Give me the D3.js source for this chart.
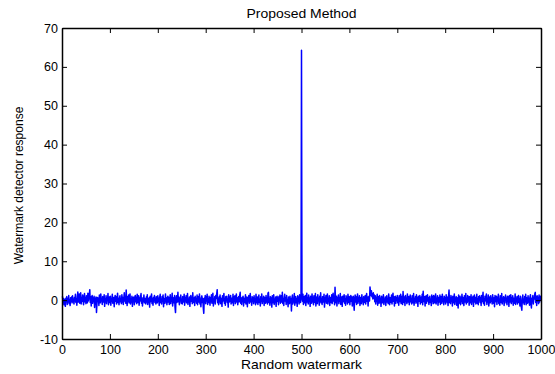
<!DOCTYPE html>
<html>
<head>
<meta charset="utf-8">
<script src="https://cdn.jsdelivr.net/npm/d3@7"></script>
<style>
  body { margin: 0; background: #fff; }
  svg { display: block; font-family: "Liberation Sans", Arial, sans-serif; }
</style>
</head>
<body>
<div id="chart"></div>
<script>
// chart texts
const title = "Proposed Method";
const xLabel = "Random watermark";
const yLabel = "Watermark detector response";

// tick values
const xTicks = [0, 100, 200, 300, 400, 500, 600, 700, 800, 900, 1000];
const yTicks = [-10, 0, 10, 20, 30, 40, 50, 60, 70];

// detector response for watermarks 1..1000 (peak at 500)
const response = [
  1.0, -0.3, 0.4, -1.2, 0.2, -0.8, -1.6, 0.5, -0.2, 0.9, -1.1, 0.3, -0.5, 1.2, -0.9, 0.1, -1.4, 0.6, -0.3, 0.8, -0.7, 1.1, -0.4, 0.2, -1.0,
  0.7, -0.2, 1.5, -0.6, 0.3, -1.3, 0.9, 2.1, -0.5, 0.4, 1.6, -0.8, 0.2, 1.9, -1.0, 0.6, -0.3, 1.3, 0.1, -1.2, 0.8, 1.7, -0.4, 0.5, -0.9,
  1.1, 0.2, -0.7, 1.8, -0.2, 0.6, 1.4, 2.7, -0.6, 0.9, -1.5, 0.3, 1.2, -0.8, 0.5, -0.1, 1.0, -1.9, 0.4, -0.6, 0.8, -3.2, -0.9, 0.7, -0.3,
  0.5, -1.4, 1.3, 0.1, -0.7, 1.6, -0.2, 0.4, -1.1, 0.9, 0.2, -0.5, 1.4, -1.6, 0.3, -0.4, 1.1, -0.9, 0.6, -0.1, 1.7, -1.2, 0.2, 0.8, -0.6,
  1.0, -1.3, 0.4, -0.2, 1.5, -0.8, 0.1, 0.7, -1.7, 0.5, 1.2, -0.3, 0.9, -1.0, 0.2, 1.8, -0.6, 0.3, -1.2, 0.6, 1.1, -0.4, 0.0, -0.9, 1.4,
  -0.5, 0.7, -1.1, 0.3, 1.9, -0.2, 0.5, -0.8, 2.6, 0.1, -1.4, 0.9, -0.3, 1.3, -0.7, 0.4, 1.6, -1.0, 0.2, -0.5, 1.0, -1.6, 0.6, -0.1, 0.8,
  -1.2, 0.3, 1.2, -0.4, 0.7, -0.9, 1.5, 0.0, -0.6, 1.1, -1.3, 0.5, -0.2, 0.9, 1.7, -0.8, 0.2, -1.5, 0.6, -0.3, 1.3, -0.7, 0.4, 0.1, -1.0,
  0.8, -0.5, 1.4, -1.1, 0.3, -0.2, 0.6, -1.8, 1.0, -0.4, 0.5, 1.6, -0.9, 0.2, -1.3, 0.7, -0.1, 1.2, -0.6, 0.4, -1.0, 0.9, 0.1, -0.7, 1.1,
  -0.3, 0.5, -1.4, 0.8, 1.5, -0.6, 0.2, -1.0, 0.9, -0.2, 1.3, -1.7, 0.4, 0.1, -0.8, 1.6, -0.4, 0.6, -1.2, 0.3, 1.0, -0.5, 0.7, -1.1, 0.2,
  1.4, -0.9, 0.5, -0.3, 1.8, -1.5, 0.6, 0.0, -0.7, 1.2, -1.9, -3.2, 0.4, 1.1, -0.6, 0.3, 2.0, -0.4, 0.8, -1.2, 0.5, -0.1, 1.3, -0.8, 0.2,
  -1.0, 0.9, 0.3, -0.5, 1.5, -1.3, 0.6, -0.2, 1.1, -0.7, 0.4, 1.7, -1.1, 0.1, -0.4, 0.8, -1.6, 0.5, 1.2, -0.3, 0.7, -0.9, 1.9, -0.6, 0.2,
  0.6, -1.4, 1.0, -0.1, 0.4, -0.8, 1.3, -1.2, 0.3, 0.9, -0.5, 1.6, -1.0, 0.2, -1.7, 0.7, 1.1, -0.6, 0.4, -2.1, -3.4, 0.5, -0.3, 1.2, -0.9,
  0.8, -0.2, 1.5, -1.1, 0.3, -0.6, 1.0, 0.1, -1.3, 0.7, -0.4, 1.4, -0.8, 0.5, 1.8, -1.5, 0.2, -0.3, 0.9, -1.0, 1.2, 0.4, 1.6, 2.7, -0.7,
  0.3, -1.2, 0.8, -0.4, 1.3, -0.9, 0.5, 0.0, -1.6, 1.1, -0.2, 0.6, 1.7, -0.8, 0.4, -1.3, 0.9, -0.1, 1.0, -0.6, 0.3, -1.8, 1.4, -0.5, 0.7,
  -0.3, 1.2, -1.0, 0.5, 0.2, -0.7, 1.5, -1.4, 0.8, -0.2, 1.1, -0.9, 0.3, 1.6, -0.5, 0.6, -1.2, 0.1, 0.9, -0.4, 1.3, 2.0, -0.8, 0.4, -1.1,
  0.7, -0.3, 1.0, -1.5, 0.5, 0.2, -0.6, 1.4, -1.0, 0.3, 0.8, -1.7, 0.6, -0.1, 1.2, -0.8, 0.4, 1.7, -0.5, 0.1, -1.3, 0.9, -0.2, 0.6, -0.9,
  1.1, -0.4, 0.3, -1.2, 1.5, 0.0, -0.7, 0.8, -1.1, 0.5, 1.3, -0.6, 0.2, -1.5, 0.9, -0.3, 1.6, -0.9, 0.4, -0.1, 1.0, -1.4, 0.7, 0.2, -0.8,
  1.2, -0.5, 0.6, -1.0, 1.8, 2.0, -0.6, 0.3, -1.3, 0.9, -0.2, 0.5, -1.8, 1.1, -0.7, 0.4, 1.4, -1.1, 0.2, -0.4, 0.8, -1.6, 0.6, 1.0, -0.3,
  0.5, -1.2, 0.9, -0.1, 1.3, -0.8, 0.4, 1.1, -0.5, 2.0, -0.9, 0.3, -1.4, 0.7, 1.5, -0.2, 0.6, -1.1, 1.2, -0.6, 0.1, -1.7, 0.8, 0.4, -0.9,
  1.0, -0.4, 0.3, -2.8, 0.6, 1.3, -1.0, 0.2, -0.5, 1.7, -1.3, 0.5, 0.9, -0.7, 0.3, -1.6, 1.1, -0.2, 0.7, -1.0, 1.4, 0.0, -0.6, 1.2, 64.3,
  0.8, -0.3, 1.5, -1.1, 0.4, 0.9, -0.7, 1.2, -1.4, 0.2, 1.8, -0.5, 0.6, -1.0, 1.3, -0.2, 0.5, -1.6, 1.0, 0.3, -0.8, 1.6, -0.4, 0.7, -1.2,
  1.1, -0.6, 0.4, 1.7, -1.5, 0.2, 0.8, -0.9, 1.4, -0.1, 0.5, -1.3, 1.0, -0.4, 1.9, -0.7, 0.3, -1.1, 0.9, 0.1, -0.5, 1.5, -1.8, 0.6, -0.2,
  1.2, -0.8, 0.4, 1.6, -1.0, 0.3, -0.3, 1.1, -1.4, 0.7, 0.2, -0.6, 1.4, -0.9, 0.5, 1.8, -0.2, 0.9, -1.2, 3.3, 0.4, -0.7, 1.0, -1.5, 0.6,
  0.1, 1.3, -0.9, 0.5, -0.3, 1.7, -1.1, 0.2, 0.8, -1.6, 1.0, -0.4, 0.6, 1.4, -0.8, 0.3, -1.3, 1.1, -0.1, 0.7, -1.0, 1.5, 0.2, -0.6, 0.9,
  -1.2, 0.5, 1.2, -0.3, 0.8, -1.5, 0.1, 1.0, -0.7, -2.6, 0.4, 1.3, -0.5, 0.9, -1.1, 0.2, 1.6, -0.8, 0.6, -0.2, 1.1, -1.4, 0.3, 0.7, -0.9,
  1.4, -0.4, 0.5, -1.2, 0.9, 0.1, -0.6, 1.2, -1.0, 0.4, 1.7, -0.3, 0.8, -1.5, 0.6, 1.0, -0.2, 3.4, 2.1, 1.2, 2.4, 0.9, 1.6, 0.3, 1.9,
  0.5, 1.3, -0.4, 1.1, -1.0, 0.7, -0.2, 1.5, -1.3, 0.3, 0.9, -0.8, 1.2, -0.5, 0.4, -1.6, 1.0, 0.1, -0.7, 0.6, 1.4, -1.1, 0.2, -0.3, 0.8,
  -1.4, 0.6, 1.1, -0.5, 0.3, -0.9, 1.6, 0.0, -1.2, 0.7, 0.4, -0.6, 1.3, -1.0, 0.5, 1.8, -0.3, 0.9, -1.5, 0.2, 1.0, -0.8, 0.6, -0.1, 1.2,
  -0.7, 0.4, -1.3, 1.1, 0.2, -0.4, 1.5, -0.9, 0.6, 1.0, -1.1, 2.2, 0.3, -0.6, 0.8, -1.4, 1.2, -0.2, 0.5, -0.9, 1.6, 0.1, -0.5, 0.9, -1.2,
  0.7, 1.3, -0.4, 0.2, -1.0, 1.1, -0.7, 0.5, 1.7, -1.3, 0.3, -0.1, 0.9, -0.8, 1.4, -0.5, 0.6, -1.6, 1.0, 0.2, -0.3, 1.2, -1.0, 0.4, 0.8,
  -0.6, 1.5, -1.2, 2.3, 0.1, -0.4, 0.9, -1.5, 0.6, 1.1, -0.8, 0.3, 1.4, -0.2, 0.7, -1.1, 0.5, 1.0, -0.6, 0.2, -1.4, 1.3, -0.3, 0.8, -0.9,
  1.2, 0.0, -0.7, 0.6, 1.6, -1.0, 0.4, -0.3, 1.1, -1.3, 0.7, 0.2, -0.5, 1.3, -1.1, 0.5, 0.9, -0.8, 1.5, -0.2, 0.3, -1.2, 1.0, -0.4, 0.6,
  -1.0, 1.4, -0.5, 0.8, 0.1, -1.4, 1.1, 2.6, -0.6, 0.4, -0.9, 1.2, -0.2, 0.7, -1.5, 1.0, 0.3, -0.7, 1.6, -1.1, 0.5, -0.1, 0.9, -1.3, 0.6,
  -0.4, -2.0, 1.3, -0.8, 0.2, 1.0, -1.2, 0.5, -0.3, 1.5, -0.9, 0.7, 0.1, -1.4, 1.1, -0.5, 0.4, 1.7, -1.0, 0.3, -0.6, 1.2, -0.2, 0.8, -1.3,
  0.9, 0.2, -0.7, 1.4, -1.1, 0.6, -0.3, 1.0, -1.6, 0.4, 1.3, -0.5, 0.7, -1.0, 0.1, 1.5, -0.8, 0.3, -1.2, 0.9, -0.1, 1.1, -0.6, 0.5, -1.4,
  1.2, -0.4, 0.6, 2.0, -0.9, 0.3, -1.3, 1.0, -0.2, 0.7, 1.6, -1.1, 0.4, -0.5, 1.3, -1.5, 0.2, 0.8, -0.7, 1.1, -0.3, 0.5, -1.0, 1.4, 0.0,
  -0.8, 0.6, -1.7, 1.2, -0.4, 0.3, 1.0, -1.1, 0.7, -0.2, 1.5, -0.9, 0.2, -1.3, 1.1, 0.4, -0.6, 1.7, -1.0, 0.5, -0.3, 0.9, -1.4, 0.6, 0.1,
  1.3, -0.7, 0.4, -1.2, 1.0, -0.1, 0.8, -1.6, 1.2, -0.5, 0.3, 1.4, -0.9, 0.6, -0.2, 1.1, -1.3, 0.5, 0.2, -0.8, 1.6, -1.1, 0.4, -0.4, 0.9,
  -1.0, 0.7, 1.2, -0.6, 0.3, -1.5, 1.0, -0.3, -1.8, -2.6, 0.5, 1.3, -0.7, 0.2, -1.1, 0.9, -0.4, 1.5, -1.2, 0.6, 0.1, -0.8, 1.1, -0.5, 0.4,
  -1.3, 0.8, 1.4, -0.9, -2.0, 0.5, -0.2, 1.2, -1.0, 0.6, 0.3, 1.6, 2.0, -0.6, 0.9, -1.4, 1.1, -0.3, 0.7, -0.9, 1.3, -0.5, 0.4, 1.0, -0.2
];

const width = 555, height = 374;
const margin = { top: 28, right: 14, bottom: 35, left: 62 };
const plotW = width - margin.left - margin.right;
const plotH = height - margin.top - margin.bottom;
const tickLen = 5;

const svg = d3.select("#chart").append("svg")
    .attr("width", width)
    .attr("height", height);

const g = svg.append("g")
    .attr("transform", `translate(${margin.left},${margin.top})`);

const x = d3.scaleLinear().domain([0, 1000]).range([0, plotW]);
const y = d3.scaleLinear().domain([-10, 70]).range([plotH, 0]);

// the series
const line = d3.line()
    .x((d, i) => x(i + 1))
    .y(d => y(d));

g.append("path")
    .datum(response)
    .attr("fill", "none")
    .attr("stroke", "#0000ff")
    .attr("stroke-width", 1.5)
    .attr("stroke-linejoin", "round")
    .attr("d", line);

// axes, matlab style: ticks point inward, on all four sides
const styleAxis = sel => {
    sel.select(".domain").attr("stroke", "#000").attr("stroke-width", 1.5);
    sel.selectAll(".tick line").attr("stroke", "#000");
    sel.selectAll(".tick text").attr("fill", "#000").style("font-size", "12.5px");
};

const plain = d => String(d); // hyphen minus, no thousands comma

g.append("g")
    .attr("transform", `translate(0,${plotH})`)
    .call(d3.axisBottom(x).tickValues(xTicks).tickFormat(plain).tickSize(-tickLen).tickPadding(6).tickSizeOuter(0))
    .call(styleAxis);

g.append("g")
    .call(d3.axisTop(x).tickValues(xTicks).tickSize(-tickLen).tickFormat("").tickSizeOuter(0))
    .call(styleAxis);

g.append("g")
    .call(d3.axisLeft(y).tickValues(yTicks).tickFormat(plain).tickSize(-tickLen).tickPadding(4).tickSizeOuter(0))
    .call(styleAxis);

g.append("g")
    .attr("transform", `translate(${plotW},0)`)
    .call(d3.axisRight(y).tickValues(yTicks).tickSize(-tickLen).tickFormat("").tickSizeOuter(0))
    .call(styleAxis);

// labels (the original is a little wider than plain Arial)
svg.append("text")
    .attr("x", margin.left + plotW / 2)
    .attr("y", 18)
    .attr("text-anchor", "middle")
    .attr("textLength", 110)
    .attr("lengthAdjust", "spacingAndGlyphs")
    .style("font-size", "13px")
    .text(title);

svg.append("text")
    .attr("x", margin.left + plotW / 2)
    .attr("y", 369)
    .attr("text-anchor", "middle")
    .attr("textLength", 121)
    .attr("lengthAdjust", "spacingAndGlyphs")
    .style("font-size", "13px")
    .text(xLabel);

svg.append("text")
    .attr("transform", `translate(23,${margin.top + plotH / 2 + 2}) rotate(-90)`)
    .attr("text-anchor", "middle")
    .style("font-size", "12px")
    .text(yLabel);
</script>
</body>
</html>
